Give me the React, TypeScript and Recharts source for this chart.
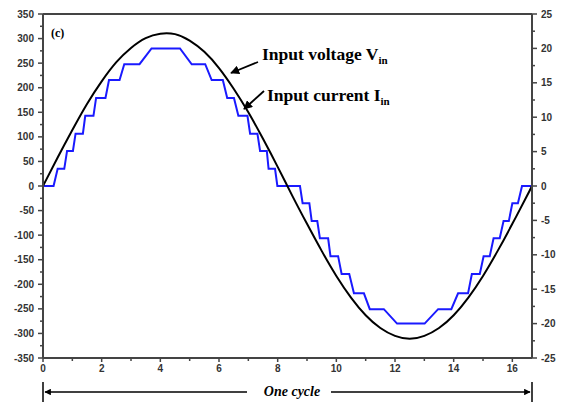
import { LineChart, Line, XAxis, YAxis } from "recharts";

// input voltage (V), sampled every 0.5 ms over one 60 Hz cycle
const voltTime = [0, 0.5, 1, 1.5, 2, 2.5, 3, 3.5, 4, 4.5, 5, 5.5, 6, 6.5, 7, 7.5, 8, 8.5, 9, 9.5, 10, 10.5, 11, 11.5, 12, 12.5, 13, 13.5, 14, 14.5, 15, 15.5, 16, 16.5, 16.67];
const voltValues = [0, 58, 114, 167, 213, 252, 281, 301, 310, 309, 296, 273, 240, 198, 150, 96, 39, -20, -77, -132, -183, -227, -263, -289, -305, -311, -305, -289, -263, -227, -183, -132, -77, -20, 0];

// input current (A), staircase corners
const currTime = [0, 0.36, 0.5, 0.725, 0.82, 1.02, 1.11, 1.36, 1.44, 1.72, 1.81, 2.13, 2.25, 2.61, 2.77, 3.29, 3.7, 4.67, 5.07, 5.53, 5.75, 6.13, 6.28, 6.51, 6.66, 6.97, 7.06, 7.31, 7.4, 7.63, 7.69, 7.91, 7.99, 8.76, 8.85, 9.08, 9.16, 9.35, 9.44, 9.72, 9.8, 10.06, 10.18, 10.44, 10.6, 10.94, 11.14, 11.62, 12.07, 13.01, 13.47, 13.92, 14.15, 14.49, 14.62, 14.89, 15.02, 15.23, 15.36, 15.57, 15.7, 15.88, 16.0, 16.19, 16.33, 16.67];
const currValues = [0, 0, 2.5, 2.5, 5.1, 5.1, 7.6, 7.6, 10.2, 10.2, 12.8, 12.8, 15.4, 15.4, 17.7, 17.7, 20, 20, 17.7, 17.7, 15.4, 15.4, 12.8, 12.8, 10.2, 10.2, 7.6, 7.6, 5.1, 5.1, 2.5, 2.5, 0, 0, -2.5, -2.5, -5.1, -5.1, -7.6, -7.6, -10.2, -10.2, -12.8, -12.8, -15.6, -15.6, -17.9, -17.9, -20, -20, -17.9, -17.9, -15.6, -15.6, -12.8, -12.8, -10.2, -10.2, -7.6, -7.6, -5.1, -5.1, -2.5, -2.5, 0, 0];

const xMajor = [0, 2, 4, 6, 8, 10, 12, 14, 16];
const voltMajor = [-350, -300, -250, -200, -150, -100, -50, 0, 50, 100, 150, 200, 250, 300, 350];
const currMajor = [-25, -20, -15, -10, -5, 0, 5, 10, 15, 20, 25];

const withMinor = (major: number[]) => {
  const out: number[] = [];
  major.forEach((v, i) => {
    out.push(v);
    if (i < major.length - 1) out.push((v + major[i + 1]) / 2);
  });
  return out;
};

const voltData = voltTime.map((t, i) => ({ t, v: voltValues[i] }));
const currData = currTime.map((t, i) => ({ t, a: currValues[i] }));

const AXIS = "#444";
const LABEL = { fontFamily: "'Liberation Sans', Arial, sans-serif", fontSize: 10, fontWeight: 700, fill: "#333" };
const SERIF = "'Liberation Serif', 'Times New Roman', serif";

const LeftTick = ({ x, y, payload }: any) => {
  const major = voltMajor.includes(payload.value);
  return (
    <g>
      <line x1={x - (major ? 5 : 3)} x2={x} y1={y} y2={y} stroke={AXIS} strokeWidth={1.5} />
      {major && (
        <text x={x - 9} y={y} dy={3.5} textAnchor="end" {...LABEL}>
          {payload.value}
        </text>
      )}
    </g>
  );
};

const RightTick = ({ x, y, payload }: any) => {
  const major = currMajor.includes(payload.value);
  return (
    <g>
      <line x1={x} x2={x + (major ? 5 : 3)} y1={y} y2={y} stroke={AXIS} strokeWidth={1.5} />
      {major && (
        <text x={x + 9} y={y} dy={3.5} textAnchor="start" {...LABEL}>
          {payload.value}
        </text>
      )}
    </g>
  );
};

const BottomTick = ({ x, y, payload }: any) => {
  const major = xMajor.includes(payload.value);
  return (
    <g>
      <line x1={x} x2={x} y1={y} y2={y + (major ? 4 : 3)} stroke={AXIS} strokeWidth={1.5} />
      {major && (
        <text x={x} y={y + 14} textAnchor="middle" {...LABEL}>
          {payload.value}
        </text>
      )}
    </g>
  );
};

const TopTick = ({ x, y }: any) => (
  <line x1={x} x2={x} y1={y} y2={y + 4} stroke={AXIS} strokeWidth={1.5} />
);

export default function App() {
  return (
    <div style={{ position: "absolute", left: 0, top: 0, width: 561, height: 405, background: "#fff" }}>
      <LineChart width={561} height={405} margin={{ top: 0, right: 0, bottom: 0, left: 0 }}>
        <XAxis
          xAxisId="top"
          orientation="top"
          type="number"
          dataKey="t"
          domain={[0, 16.67]}
          ticks={withMinor(xMajor)}
          interval={0}
          height={14}
          tickSize={0}
          tickMargin={0}
          tickLine={false}
          tick={<TopTick />}
          axisLine={{ stroke: AXIS, strokeWidth: 2 }}
        />
        <XAxis
          type="number"
          dataKey="t"
          domain={[0, 16.67]}
          ticks={withMinor(xMajor)}
          interval={0}
          height={47}
          tickSize={0}
          tickMargin={0}
          tickLine={false}
          tick={<BottomTick />}
          axisLine={{ stroke: AXIS, strokeWidth: 2 }}
        />
        <YAxis
          yAxisId="left"
          domain={[-350, 350]}
          ticks={withMinor(voltMajor)}
          interval={0}
          width={43}
          tickSize={0}
          tickMargin={0}
          tickLine={false}
          tick={<LeftTick />}
          axisLine={{ stroke: AXIS, strokeWidth: 2 }}
        />
        <YAxis
          yAxisId="right"
          orientation="right"
          domain={[-25, 25]}
          ticks={withMinor(currMajor)}
          interval={0}
          width={29}
          tickSize={0}
          tickMargin={0}
          tickLine={false}
          tick={<RightTick />}
          axisLine={{ stroke: AXIS, strokeWidth: 2 }}
        />
        <Line
          yAxisId="right"
          data={currData}
          dataKey="a"
          type="linear"
          stroke="#1a1aff"
          strokeWidth={2}
          dot={false}
          isAnimationActive={false}
        />
        <Line
          yAxisId="left"
          data={voltData}
          dataKey="v"
          type="natural"
          stroke="#000"
          strokeWidth={2}
          dot={false}
          isAnimationActive={false}
        />
      </LineChart>
      <svg width={561} height={405} style={{ position: "absolute", left: 0, top: 0, pointerEvents: "none" }}>
        <defs>
          <marker id="ah" viewBox="0 0 10 10" refX="9" refY="5" markerWidth="5" markerHeight="5" orient="auto-start-reverse">
            <path d="M0,0 L10,5 L0,10 z" fill="#000" />
          </marker>
        </defs>
        <text x={51} y={37} fontFamily={SERIF} fontWeight={700} fontSize={12}>(c)</text>
        <text x={262} y={60} fontFamily={SERIF} fontWeight={700} fontSize={17.5}>
          Input voltage V<tspan fontSize={11} dy={4}>in</tspan>
        </text>
        <line x1={258} y1={62} x2={231} y2={73} stroke="#000" strokeWidth={1.8} markerEnd="url(#ah)" />
        <text x={267} y={101} fontFamily={SERIF} fontWeight={700} fontSize={17.5}>
          Input current I<tspan fontSize={11} dy={4}>in</tspan>
        </text>
        <line x1={264} y1={91} x2={244} y2={109} stroke="#000" strokeWidth={1.8} markerEnd="url(#ah)" />
        <line x1={43} y1={382} x2={43} y2={402} stroke="#000" strokeWidth={1.5} />
        <line x1={532} y1={382} x2={532} y2={402} stroke="#000" strokeWidth={1.5} />
        <line x1={247} y1={392} x2={45} y2={392} stroke="#000" strokeWidth={1.3} markerEnd="url(#ah)" />
        <line x1={331} y1={392} x2={530} y2={392} stroke="#000" strokeWidth={1.3} markerEnd="url(#ah)" />
        <text x={292} y={396} textAnchor="middle" fontFamily={SERIF} fontStyle="italic" fontWeight={700} fontSize={14}>
          One cycle
        </text>
      </svg>
    </div>
  );
}
